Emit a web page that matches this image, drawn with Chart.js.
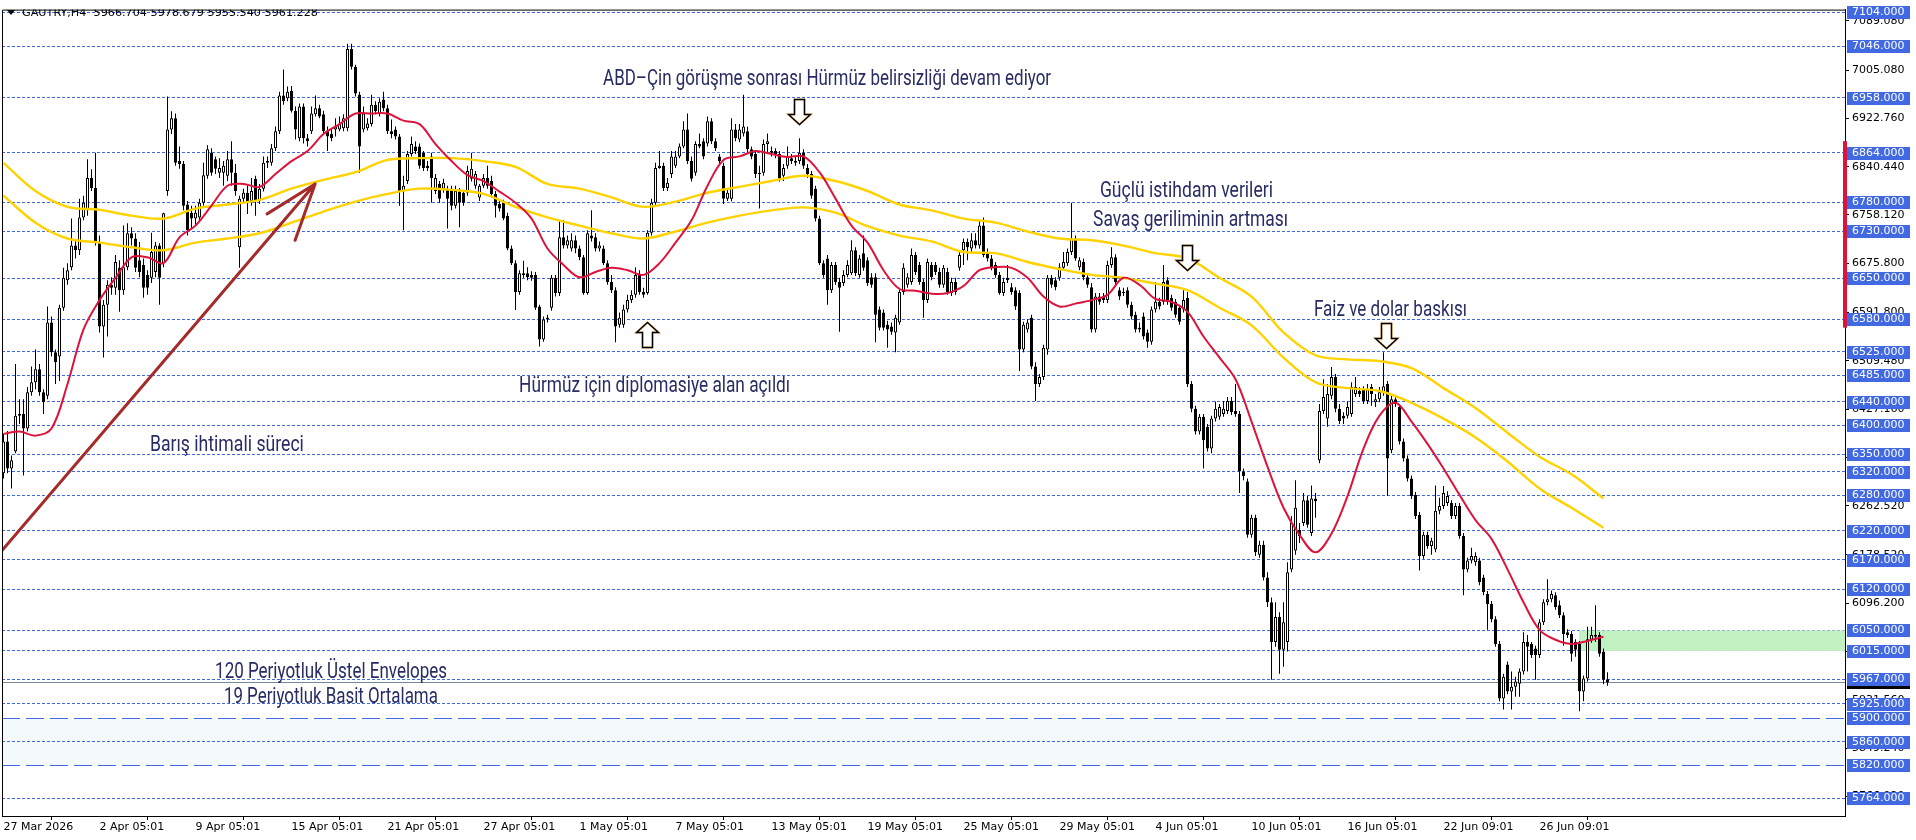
<!DOCTYPE html>
<html>
<head>
<meta charset="utf-8">
<title>GAUTRY H4</title>
<script src="https://cdn.jsdelivr.net/npm/chart.js@4.4.1/dist/chart.umd.min.js"></script>
<style>
  html, body { margin: 0; padding: 0; background: #fff; }
  #wrap { width: 1916px; height: 840px; }
</style>
</head>
<body>
<div id="wrap"><canvas id="chart" width="1916" height="840"></canvas></div>
<script>
const symbol = 'GAUTRY';
const period = 'H4';

// H4 bars, oldest first
const opens = [
  6318,6372,6326,6355,6416,6419,6394,6456,6473,6495,
  6456,6450,6575,6524,6517,6600,6647,6669,6706,6698,
  6754,6766,6821,6804,6711,6568,6605,6639,6634,6668,
  6630,6669,6727,6718,6681,6673,6656,6651,6661,6706,
  6676,6799,6904,6923,6850,6845,6776,6762,6752,6754,
  6779,6825,6864,6853,6830,6830,6825,6853,6830,6703,
  6786,6796,6782,6820,6782,6803,6847,6847,6872,6901,
  6962,6957,6970,6936,6889,6943,6889,6901,6930,6940,
  6930,6901,6896,6904,6904,6906,6906,7041,7011,6963,
  6904,6906,6913,6946,6931,6955,6940,6901,6904,6892,
  6799,6816,6862,6875,6875,6864,6842,6858,6799,6811,
  6803,6803,6803,6774,6798,6796,6796,6820,6808,6788,
  6808,6821,6816,6794,6777,6779,6757,6701,6676,6627,
  6656,6659,6656,6656,6602,6546,6580,6600,6651,6625,
  6720,6706,6701,6715,6701,6686,6625,6723,6720,6701,
  6701,6676,6644,6630,6571,6571,6597,6613,6622,6656,
  6627,6625,6728,6779,6838,6842,6804,6828,6842,6858,
  6875,6904,6850,6830,6879,6884,6880,6918,6884,6858,
  6842,6786,6786,6904,6887,6897,6901,6870,6862,6830,
  6830,6879,6867,6867,6862,6825,6842,6855,6850,6850,
  6864,6838,6828,6803,6752,6676,6684,6630,6673,6644,
  6642,6656,6659,6698,6656,6693,6681,6652,6652,6597,
  6592,6571,6568,6558,6575,6627,6639,6644,6690,6673,
  6644,6613,6673,6673,6661,6639,6661,6625,6644,6668,
  6698,6712,6701,6715,6706,6740,6693,6684,6673,6656,
  6625,6651,6635,6630,6625,6529,6563,6583,6500,6470,
  6482,6529,6651,6647,6651,6668,6676,6695,6718,6669,
  6678,6652,6635,6563,6619,6619,6613,6673,6686,6630,
  6627,6630,6605,6588,6566,6585,6558,6542,6597,6610,
  6610,6647,6617,6610,6600,6597,6617,6470,6428,6389,
  6414,6397,6360,6411,6414,6419,6424,6441,6424,6419,
  6321,6304,6213,6242,6179,6196,6140,6098,6030,6073,
  6017,6030,6154,6186,6221,6233,6272,6216,6275,6340,
  6424,6411,6450,6482,6428,6416,6416,6419,6453,6458,
  6461,6441,6465,6439,6444,6456,6470,6357,6444,6431,
  6372,6343,6309,6281,6247,6177,6213,6194,6188,6254,
  6262,6267,6267,6245,6262,6211,6154,6169,6166,6169,
  6140,6112,6095,6069,6027,5934,5992,5946,5954,5959,
  5980,6030,6027,6019,6008,6064,6098,6103,6110,6093,
  6076,6047,6044,6030,6027,5946,5968,6034,6042,6042,
  6014,5966.704
];
const highs = [
  6385,6390,6348,6504,6444,6444,6465,6500,6529,6504,
  6461,6602,6585,6529,6605,6668,6676,6752,6715,6786,
  6791,6853,6836,6864,6723,6613,6647,6652,6690,6681,
  6740,6744,6737,6727,6712,6684,6664,6728,6712,6710,
  6762,6960,6935,6931,6875,6850,6782,6774,6774,6786,
  6847,6877,6872,6858,6855,6850,6867,6884,6845,6791,
  6803,6808,6821,6825,6811,6858,6858,6879,6909,6968,
  7006,6977,6978,6943,6948,6948,6896,6943,6962,6946,
  6936,6909,6906,6923,6926,6930,7050,7050,7014,6968,
  6943,6923,6963,6952,6957,6968,6946,6921,6909,6896,
  6825,6867,6892,6884,6880,6867,6850,6864,6828,6816,
  6820,6808,6808,6808,6804,6799,6842,6864,6833,6811,
  6828,6842,6825,6799,6782,6784,6762,6706,6681,6664,
  6680,6669,6662,6661,6605,6585,6588,6656,6656,6749,
  6749,6723,6727,6723,6706,6690,6732,6766,6727,6713,
  6706,6681,6656,6635,6592,6605,6622,6630,6669,6664,
  6634,6732,6786,6847,6867,6847,6821,6867,6867,6880,
  6918,6931,6858,6884,6897,6889,6926,6923,6889,6862,
  6847,6803,6923,6913,6913,6963,6909,6875,6867,6842,
  6887,6897,6875,6872,6867,6845,6875,6862,6858,6889,
  6870,6845,6833,6808,6757,6681,6690,6678,6678,6651,
  6664,6681,6715,6703,6690,6723,6686,6659,6659,6602,
  6597,6578,6575,6588,6634,6676,6659,6701,6695,6678,
  6649,6684,6678,6678,6668,6673,6668,6651,6651,6698,
  6718,6718,6727,6727,6749,6754,6701,6690,6678,6661,
  6651,6673,6642,6635,6630,6576,6580,6588,6507,6487,
  6537,6656,6656,6652,6676,6695,6701,6779,6723,6686,
  6684,6659,6642,6625,6625,6625,6680,6703,6691,6635,
  6634,6635,6610,6593,6575,6592,6563,6602,6644,6617,
  6673,6652,6622,6615,6605,6630,6627,6475,6433,6419,
  6419,6402,6416,6440,6436,6441,6448,6448,6470,6424,
  6326,6309,6247,6247,6203,6203,6149,6106,6098,6081,
  6098,6166,6245,6306,6233,6284,6279,6297,6284,6436,
  6478,6470,6499,6487,6436,6422,6440,6473,6482,6465,
  6466,6470,6470,6453,6465,6524,6475,6450,6450,6436,
  6377,6348,6314,6286,6252,6218,6218,6208,6297,6276,
  6296,6287,6272,6267,6267,6216,6174,6191,6183,6174,
  6145,6117,6100,6074,6032,5976,5997,5980,5971,5985,
  6047,6042,6030,6024,6069,6103,6137,6118,6115,6101,
  6081,6052,6049,6035,6032,5973,6056,6056,6093,6047,
  6019,5978.679
];
const lows = [
  6309,6318,6292,6352,6402,6314,6389,6450,6461,6450,
  6419,6444,6517,6470,6475,6595,6639,6664,6684,6690,
  6749,6757,6799,6706,6558,6515,6551,6622,6622,6593,
  6622,6664,6706,6661,6652,6617,6622,6642,6652,6605,
  6669,6791,6896,6842,6837,6766,6723,6735,6740,6749,
  6774,6820,6825,6828,6821,6808,6816,6808,6791,6668,
  6779,6760,6774,6757,6777,6798,6838,6842,6867,6896,
  6946,6952,6933,6887,6884,6880,6875,6896,6926,6923,
  6896,6867,6884,6892,6901,6901,6901,7006,6960,6830,
  6899,6902,6909,6930,6926,6935,6896,6889,6887,6774,
  6732,6811,6858,6862,6837,6833,6833,6779,6794,6779,
  6796,6735,6766,6769,6737,6774,6791,6815,6803,6782,
  6804,6803,6791,6754,6764,6749,6698,6673,6596,6622,
  6651,6647,6646,6596,6534,6542,6575,6595,6619,6620,
  6701,6701,6696,6693,6681,6622,6622,6713,6696,6696,
  6673,6639,6625,6541,6566,6566,6592,6608,6617,6622,
  6617,6622,6723,6774,6837,6799,6799,6821,6838,6855,
  6872,6845,6815,6825,6872,6853,6875,6879,6867,6845,
  6777,6782,6781,6884,6882,6892,6865,6853,6821,6769,
  6825,6864,6858,6855,6815,6816,6837,6845,6842,6845,
  6837,6821,6786,6747,6673,6651,6605,6625,6639,6559,
  6637,6652,6656,6654,6651,6663,6637,6634,6541,6561,
  6561,6532,6554,6524,6571,6622,6634,6639,6656,6639,
  6583,6608,6647,6656,6634,6634,6622,6620,6622,6663,
  6673,6681,6695,6701,6701,6686,6679,6664,6651,6622,
  6620,6642,6622,6596,6492,6524,6558,6495,6441,6465,
  6477,6520,6634,6630,6646,6663,6671,6690,6680,6664,
  6647,6634,6558,6558,6605,6608,6608,6668,6639,6613,
  6620,6600,6580,6558,6558,6546,6532,6537,6592,6597,
  6605,6605,6595,6583,6571,6592,6465,6422,6384,6384,
  6326,6355,6352,6406,6409,6414,6419,6417,6414,6284,
  6306,6208,6208,6177,6174,6135,6090,5966,6022,5976,
  5988,6014,6149,6179,6199,6228,6225,6211,6242,6335,
  6419,6397,6444,6422,6402,6402,6411,6414,6448,6448,
  6436,6436,6433,6431,6439,6450,6279,6352,6431,6367,
  6338,6304,6274,6240,6152,6172,6189,6179,6183,6248,
  6257,6262,6240,6240,6206,6110,6149,6164,6160,6127,
  6110,6051,6064,6022,5929,5915,5941,5915,5937,5937,
  5975,5980,6003,5966,6003,6059,6093,6098,6085,6071,
  6024,6037,5997,6005,5912,5929,5963,6029,6030,6005,
  5958,5955.540
];
const closes = [
  6372,6326,6340,6416,6419,6394,6456,6473,6495,6456,
  6439,6575,6524,6507,6600,6651,6664,6706,6698,6754,
  6779,6821,6804,6711,6568,6605,6639,6634,6678,6630,
  6669,6727,6718,6668,6661,6634,6634,6695,6706,6651,
  6761,6904,6923,6847,6845,6774,6732,6752,6762,6779,
  6826,6870,6830,6837,6838,6842,6853,6830,6799,6786,
  6796,6779,6799,6782,6803,6847,6850,6872,6901,6962,
  6952,6968,6936,6904,6943,6889,6884,6931,6940,6926,
  6901,6892,6889,6909,6913,6923,7041,7011,6965,6875,
  6931,6914,6946,6935,6951,6940,6901,6896,6892,6799,
  6808,6862,6879,6867,6842,6838,6838,6821,6821,6786,
  6813,6786,6774,6799,6779,6779,6833,6837,6828,6808,
  6821,6808,6794,6774,6769,6752,6701,6676,6627,6659,
  6659,6652,6651,6600,6546,6580,6583,6651,6625,6720,
  6706,6715,6715,6701,6686,6625,6727,6718,6701,6706,
  6676,6644,6630,6568,6583,6597,6613,6622,6656,6627,
  6622,6728,6779,6838,6842,6804,6813,6858,6858,6875,
  6904,6850,6820,6879,6875,6858,6918,6884,6872,6850,
  6786,6796,6904,6889,6904,6909,6870,6858,6828,6828,
  6879,6884,6864,6862,6820,6838,6858,6850,6847,6864,
  6842,6828,6791,6752,6676,6656,6630,6673,6644,6634,
  6656,6673,6698,6659,6684,6668,6642,6639,6588,6566,
  6566,6563,6559,6583,6627,6668,6652,6690,6661,6644,
  6613,6678,6652,6661,6639,6668,6627,6644,6627,6690,
  6712,6703,6715,6706,6740,6690,6684,6669,6656,6625,
  6644,6647,6627,6602,6529,6571,6575,6500,6470,6482,
  6532,6651,6639,6635,6669,6678,6695,6718,6684,6681,
  6652,6639,6563,6619,6610,6613,6673,6686,6644,6619,
  6625,6605,6585,6563,6563,6551,6542,6597,6610,6602,
  6644,6610,6600,6588,6576,6613,6470,6428,6389,6414,
  6374,6360,6411,6428,6431,6428,6441,6422,6419,6321,
  6313,6213,6242,6183,6196,6140,6098,6030,6073,6017,
  6064,6149,6233,6259,6211,6272,6230,6275,6270,6424,
  6448,6453,6482,6428,6407,6411,6431,6465,6465,6453,
  6441,6461,6453,6444,6456,6466,6343,6444,6436,6372,
  6343,6309,6279,6245,6177,6213,6194,6203,6254,6262,
  6284,6279,6245,6262,6211,6154,6169,6177,6177,6132,
  6115,6095,6069,6027,5934,5971,5946,5954,5963,5980,
  6030,6022,6008,6008,6064,6098,6103,6112,6090,6076,
  6044,6042,6010,6017,5946,5968,6035,6042,6039,6010,
  5966,5961.228
];

// 19 period simple average, read every 4 bars
const smaStep = 4;
const sma19 = [
  6385,6389,6382,6394,6470,6563,6613,6651,6686,6686,
  6676,6720,6740,6774,6808,6811,6806,6828,6850,6867,
  6896,6913,6931,6931,6931,6919,6913,6879,6850,6826,
  6816,6798,6779,6752,6701,6673,6652,6661,6668,6664,
  6656,6676,6711,6749,6808,6852,6858,6867,6862,6857,
  6858,6831,6786,6740,6711,6664,6632,6629,6624,6625,
  6637,6664,6669,6668,6651,6619,6602,6607,6613,6622,
  6651,6639,6615,6610,6593,6551,6515,6478,6406,6329,
  6259,6213,6183,6215,6279,6360,6416,6438,6406,6368,
  6326,6281,6238,6206,6154,6098,6051,6034,6027,6032,
  6039
];

// 120 period exponential envelopes, read every 8 bars
const envStep = 8;
const envUpper = [
  6847,6799,6772,6767,6757,6752,6769,6776,6784,6803,
  6818,6831,6852,6855,6855,6850,6840,6811,6803,6788,
  6772,6781,6796,6806,6816,6825,6816,6799,6776,6766,
  6752,6745,6730,6718,6715,6706,6693,6684,6651,6619,
  6558,6519,6512,6509,6497,6463,6429,6387,6346,6316,
  6275
];
const envLower = [
  6791,6745,6718,6711,6703,6698,6711,6718,6727,6745,
  6764,6781,6794,6803,6801,6794,6772,6754,6740,6727,
  6718,6730,6745,6757,6766,6771,6762,6739,6723,6713,
  6695,6693,6678,6666,6656,6651,6641,6630,6600,6570,
  6515,6473,6463,6458,6438,6411,6379,6338,6292,6259,
  6225
];

// price axis
const priceTicks = [7089.08,7005.08,6922.76,6840.44,6758.12,6675.80,6591.80,6509.48,6427.16,
  6344.84,6262.52,6178.52,6096.20,6013.88,5931.56,5849.24,5766.92];
const levels = [7104,7046,6958,6864,6780,6730,6650,6580,6525,6485,6440,6400,6350,6320,
  6280,6220,6170,6120,6050,6015,5967,5925,5900,5860,5820,5764];
const longDashLevels = [5900, 5820];

// time axis
const labelBars = [0,24,48,72,96,120,144,168,192,216,240,264,288,312,336,360,384];
const timeLabels = ['27 Mar 2026','2 Apr 05:01','9 Apr 05:01','15 Apr 05:01','21 Apr 05:01',
  '27 Apr 05:01','1 May 05:01','7 May 05:01','13 May 05:01','19 May 05:01','25 May 05:01',
  '29 May 05:01','4 Jun 05:01','10 Jun 05:01','16 Jun 05:01','22 Jun 09:01','26 Jun 09:01'];

// drawn objects
const band = { top: 5900, bottom: 5820 };
const zone = { top: 6050, bottom: 6015, fromBar: 393.9 };
const axisMarker = { top: 6884, bottom: 6566 };
const trendLine = [{ bar: -0.375, price: 6186 }, { bar: 77.9, price: 6811 }];
const trendHeads = [{ bar: 65.9, price: 6760 }, { bar: 72.9, price: 6715 }];
const arrows = [
  { bar: 198.9, price: 6914, dir: 1 },
  { bar: 160.9, price: 6575, dir: -1 },
  { bar: 295.9, price: 6664, dir: 1 },
  { bar: 345.6, price: 6532, dir: 1 },
];
const notes = [
  { text: 'ABD–Çin görüşme sonrası Hürmüz belirsizliği devam ediyor', bar: 149.9, price: 6980, width: 448 },
  { text: 'Hürmüz için diplomasiye alan açıldı', bar: 128.9, price: 6456, width: 271 },
  { text: 'Barış ihtimali süreci', bar: 36.6, price: 6355, width: 154 },
  { text: 'Güçlü istihdam verileri', bar: 274.1, price: 6789, width: 173 },
  { text: 'Savaş geriliminin artması', bar: 272.4, price: 6739, width: 195 },
  { text: 'Faiz ve dolar baskısı', bar: 327.6, price: 6586, width: 153 },
  { text: '120 Periyotluk Üstel Envelopes', bar: 52.9, price: 5968, width: 232 },
  { text: '19 Periyotluk Basit Ortalama', bar: 55.1, price: 5926, width: 214 },
];

const bodies = closes.map((c, i) => ({ x: i, y: [Math.min(opens[i], c), Math.max(opens[i], c)] }));
const wicks = closes.map((c, i) => ({ x: i, y: [lows[i], highs[i]] }));
const bodyColors = closes.map((c, i) => (c >= opens[i] ? '#ffffff' : '#000000'));
const smaPoints = sma19.map((v, k) => ({ x: k * smaStep, y: v }));
const upperPoints = envUpper.map((v, k) => ({ x: k * envStep, y: v }));
const lowerPoints = envLower.map((v, k) => ({ x: k * envStep, y: v }));

const last = closes.length - 1;

function fitText(ctx, text, x, y, width) {
  const w = ctx.measureText(text).width;
  ctx.save();
  ctx.translate(x, y);
  ctx.scale(width / w, 1);
  ctx.fillText(text, 0, 0);
  ctx.restore();
}

function blockArrow(ctx, cx, tipY, dir) {
  const len = 25, headLen = 10, headHalf = 11, shaftHalf = 5;
  const baseY = tipY - dir * len;
  const neckY = tipY - dir * headLen;
  ctx.beginPath();
  ctx.moveTo(cx - shaftHalf, baseY);
  ctx.lineTo(cx + shaftHalf, baseY);
  ctx.lineTo(cx + shaftHalf, neckY);
  ctx.lineTo(cx + headHalf, neckY);
  ctx.lineTo(cx, tipY);
  ctx.lineTo(cx - headHalf, neckY);
  ctx.lineTo(cx - shaftHalf, neckY);
  ctx.closePath();
  ctx.fillStyle = '#ffffff';
  ctx.fill();
  ctx.lineJoin = 'miter';
  ctx.strokeStyle = '#F2C27A';
  ctx.lineWidth = 2.2;
  ctx.stroke();
  ctx.strokeStyle = '#000000';
  ctx.lineWidth = 1.4;
  ctx.stroke();
}

const overlay = {
  id: 'overlay',
  beforeDraw(chart) {
    const ctx = chart.ctx;
    ctx.save();
    ctx.fillStyle = '#ffffff';
    ctx.fillRect(0, 0, chart.width, chart.height);
    ctx.restore();
  },
  beforeDatasetsDraw(chart) {
    const { ctx, chartArea: a, scales: { x, y } } = chart;
    ctx.save();
    const b1 = y.getPixelForValue(band.top), b2 = y.getPixelForValue(band.bottom);
    ctx.fillStyle = '#F4F9FC';
    ctx.fillRect(a.left, b1, a.right - a.left, b2 - b1);

    ctx.strokeStyle = '#4169E1';
    ctx.lineWidth = 1;
    levels.forEach(v => {
      const py = Math.floor(y.getPixelForValue(v)) + 0.5;
      ctx.setLineDash(longDashLevels.includes(v) ? [18, 6] : [3, 2]);
      ctx.beginPath();
      ctx.moveTo(a.left, py);
      ctx.lineTo(a.right, py);
      ctx.stroke();
    });
    ctx.setLineDash([]);

    const zx = x.getPixelForValue(zone.fromBar);
    const z1 = y.getPixelForValue(zone.top), z2 = y.getPixelForValue(zone.bottom);
    ctx.fillStyle = '#C1F0C1';
    ctx.fillRect(zx, z1, a.right - zx, z2 - z1);

    const cy = Math.floor(y.getPixelForValue(closes[last])) + 0.5;
    ctx.strokeStyle = '#778899';
    ctx.beginPath();
    ctx.moveTo(a.left, cy);
    ctx.lineTo(a.right, cy);
    ctx.stroke();
    ctx.restore();
  },
  afterDatasetsDraw(chart) {
    const { ctx, chartArea: a, scales: { x, y } } = chart;
    ctx.save();
    ctx.beginPath();
    ctx.rect(a.left, a.top, a.right - a.left, a.bottom - a.top);
    ctx.clip();

    ctx.strokeStyle = '#A52A2A';
    ctx.lineWidth = 3;
    ctx.lineCap = 'round';
    const p0 = { x: x.getPixelForValue(trendLine[0].bar), y: y.getPixelForValue(trendLine[0].price) };
    const p1 = { x: x.getPixelForValue(trendLine[1].bar), y: y.getPixelForValue(trendLine[1].price) };
    ctx.beginPath();
    ctx.moveTo(p0.x, p0.y);
    ctx.lineTo(p1.x, p1.y);
    trendHeads.forEach(h => {
      ctx.moveTo(p1.x, p1.y);
      ctx.lineTo(x.getPixelForValue(h.bar), y.getPixelForValue(h.price));
    });
    ctx.stroke();

    arrows.forEach(ar => blockArrow(ctx, Math.round(x.getPixelForValue(ar.bar)) + 0.5,
      Math.round(y.getPixelForValue(ar.price)) + 0.5, ar.dir));

    ctx.fillStyle = '#272C63';
    ctx.font = '22px Roboto';
    ctx.textBaseline = 'alphabetic';
    ctx.textAlign = 'left';
    notes.forEach(n => fitText(ctx, n.text, x.getPixelForValue(n.bar), y.getPixelForValue(n.price), n.width));

    // header
    ctx.fillStyle = '#000000';
    ctx.beginPath();
    ctx.moveTo(7, 10);
    ctx.lineTo(15, 10);
    ctx.lineTo(11, 15);
    ctx.closePath();
    ctx.fill();
    const head = symbol + ',' + period + '  ' +
      [opens[last], highs[last], lows[last], closes[last]].map(v => v.toFixed(3)).join(' ');
    ctx.font = '11px "DejaVu Sans"';
    ctx.textBaseline = 'middle';
    fitText(ctx, head, 22, 13, 296);
    ctx.restore();

    ctx.save();
    ctx.strokeStyle = '#000000';
    ctx.lineWidth = 1;
    ctx.beginPath();
    ctx.moveTo(a.left + 0.5, a.bottom);
    ctx.lineTo(a.left + 0.5, a.top + 0.5);
    ctx.lineTo(a.right, a.top + 0.5);
    ctx.stroke();
    ctx.restore();
  },
  afterDraw(chart) {
    const { ctx, chartArea: a, scales: { y } } = chart;
    ctx.save();
    ctx.font = '11px "DejaVu Sans"';
    ctx.textBaseline = 'middle';
    ctx.textAlign = 'left';
    const box = (v, bg, label) => {
      const py = Math.round(y.getPixelForValue(v));
      ctx.fillStyle = bg;
      ctx.fillRect(a.right + 2, py - 6, 63, 13);
      ctx.fillStyle = '#ffffff';
      ctx.fillText(label, a.right + 7, py + 0.5);
    };
    box(closes[last], '#000000', closes[last].toFixed(3));
    levels.forEach(v => box(v, '#4169E1', v.toFixed(3)));

    const m1 = y.getPixelForValue(axisMarker.top), m2 = y.getPixelForValue(axisMarker.bottom);
    ctx.fillStyle = '#DC143C';
    ctx.fillRect(a.right - 2, m1, 4, m2 - m1);
    ctx.restore();
  }
};

const yMax = 7108.22;
const yMin = 5733.6;
const xMin = -0.375;
const xMax = 460.375;

new Chart(document.getElementById('chart'), {
  type: 'bar',
  data: {
    datasets: [
      {
        type: 'line', label: 'SMA 19', data: smaPoints, order: 0,
        borderColor: '#DC143C', borderWidth: 2, pointRadius: 0, tension: 0.35, fill: false,
      },
      {
        type: 'line', label: 'Envelope upper', data: upperPoints, order: 1,
        borderColor: '#FFD200', borderWidth: 2.4, pointRadius: 0, tension: 0.35, fill: false,
      },
      {
        type: 'line', label: 'Envelope lower', data: lowerPoints, order: 1,
        borderColor: '#FFD200', borderWidth: 2.4, pointRadius: 0, tension: 0.35, fill: false,
      },
      {
        label: 'body', data: bodies, order: 2, grouped: false, barThickness: 3,
        backgroundColor: bodyColors, borderColor: '#000000', borderWidth: 1,
        borderSkipped: false, inflateAmount: 0, minBarLength: 1,
      },
      {
        label: 'wick', data: wicks, order: 3, grouped: false, barThickness: 1,
        backgroundColor: '#000000', borderWidth: 0, inflateAmount: 0,
      },
    ],
  },
  options: {
    responsive: false,
    devicePixelRatio: 1,
    animation: false,
    events: [],
    layout: { padding: { left: 2, top: 2, right: 0, bottom: 0 } },
    plugins: { legend: { display: false }, tooltip: { enabled: false } },
    scales: {
      x: {
        type: 'linear', min: xMin, max: xMax, offset: false,
        afterBuildTicks: s => { s.ticks = labelBars.map(v => ({ value: v })); },
        afterFit: s => { s.height = 24; },
        ticks: {
          callback: (v, i) => timeLabels[i], align: 'start', autoSkip: false, maxRotation: 0,
          color: '#000000', padding: 1, font: { family: 'DejaVu Sans', size: 11 },
        },
        grid: { display: true, drawOnChartArea: false, drawTicks: true, tickLength: 4, color: '#000000' },
        border: { display: true, color: '#000000', width: 1 },
      },
      y: {
        type: 'linear', position: 'right', min: yMin, max: yMax,
        afterBuildTicks: s => { s.ticks = priceTicks.map(v => ({ value: v })); },
        afterFit: s => { s.width = 71; },
        ticks: {
          callback: v => v.toFixed(3), autoSkip: false, color: '#000000', padding: 3,
          font: { family: 'DejaVu Sans', size: 11 },
        },
        grid: { display: true, drawOnChartArea: false, drawTicks: true, tickLength: 4, color: '#000000' },
        border: { display: true, color: '#000000', width: 1 },
      },
    },
  },
  plugins: [overlay],
});
</script>
</body>
</html>
